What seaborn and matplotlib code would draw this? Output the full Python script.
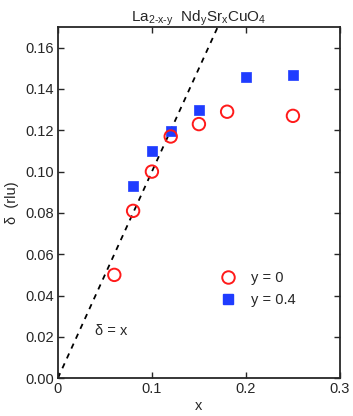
import matplotlib
matplotlib.use("Agg")
import matplotlib.pyplot as plt
import seaborn as sns
import pandas as pd
from matplotlib.lines import Line2D

x_y0 = [0.06, 0.08, 0.10, 0.12, 0.15, 0.18, 0.25]
d_y0 = [0.050, 0.081, 0.100, 0.117, 0.123, 0.129, 0.127]
x_y04 = [0.08, 0.10, 0.12, 0.15, 0.20, 0.25]
d_y04 = [0.093, 0.110, 0.1195, 0.130, 0.146, 0.147]
line_x = [0.0, 0.17]
line_d = [0.0, 0.17]
xticks = [0, 0.1, 0.2, 0.3]
xticklabels = ["0", "0.1", "0.2", "0.3"]
yticks = [0.00, 0.02, 0.04, 0.06, 0.08, 0.10, 0.12, 0.14, 0.16]

sns.set_style("ticks")
plt.rcParams['font.family'] = ['Liberation Sans', 'DejaVu Sans']
plt.rcParams['mathtext.fontset'] = 'custom'
plt.rcParams['mathtext.rm'] = 'Liberation Sans'
plt.rcParams['mathtext.it'] = 'Liberation Sans'

fig = plt.figure(figsize=(3.53, 4.16), dpi=100)
ax = fig.add_axes([0.164, 0.091, 0.799, 0.844])

df0 = pd.DataFrame({"x": x_y0, "d": d_y0})
df1 = pd.DataFrame({"x": x_y04, "d": d_y04})
dl = pd.DataFrame({"x": line_x, "d": line_d})

sns.lineplot(data=dl, x="x", y="d", ax=ax, color="black", linestyle=(0, (3, 3)), linewidth=1.3)
sns.scatterplot(data=df1, x="x", y="d", ax=ax, marker="s", s=60, color="#1f3cff", edgecolor="#1f3cff", linewidth=0.5, zorder=3)
sns.scatterplot(data=df0, x="x", y="d", ax=ax, marker="o", s=80, facecolor="none", edgecolor="#ff1a1a", linewidth=1.4, zorder=4)

ax.set_xlim(0, 0.3)
ax.set_ylim(0, 0.17)
ax.set_xticks(xticks)
ax.set_xticklabels(xticklabels)
ax.set_yticks(yticks)
ax.set_yticklabels([f"{v:.2f}" for v in yticks])
ax.tick_params(direction="in", top=True, right=True, labelsize=10.5, length=4, width=1, pad=3)
for s in ax.spines.values():
    s.set_linewidth(1.3)
    s.set_visible(True)

ax.set_xlabel("x", fontsize=10.5, labelpad=2)
ax.set_ylabel("δ  (rlu)", fontsize=10.5, labelpad=4)
ax.set_title(r"La$_{\rm 2\text{-}x\text{-}y}$  Nd$_{\rm y}$Sr$_{\rm x}$CuO$_{\rm 4}$", fontsize=11, pad=4)

ax.text(0.04, 0.021, "δ = x", fontsize=10.5)

handles = [
    Line2D([], [], linestyle="none", marker="o", markersize=9, markerfacecolor="none", markeredgecolor="#ff1a1a", markeredgewidth=1.4),
    Line2D([], [], linestyle="none", marker="s", markersize=7.5, markerfacecolor="#1f3cff", markeredgecolor="#1f3cff"),
]
ax.legend(handles, ["y = 0", "y = 0.4"], loc="lower left", bbox_to_anchor=(0.53, 0.187), frameon=False, fontsize=10.5, handletextpad=0.6, labelspacing=0.5, borderaxespad=0)

fig.savefig("out.png", dpi=100)
